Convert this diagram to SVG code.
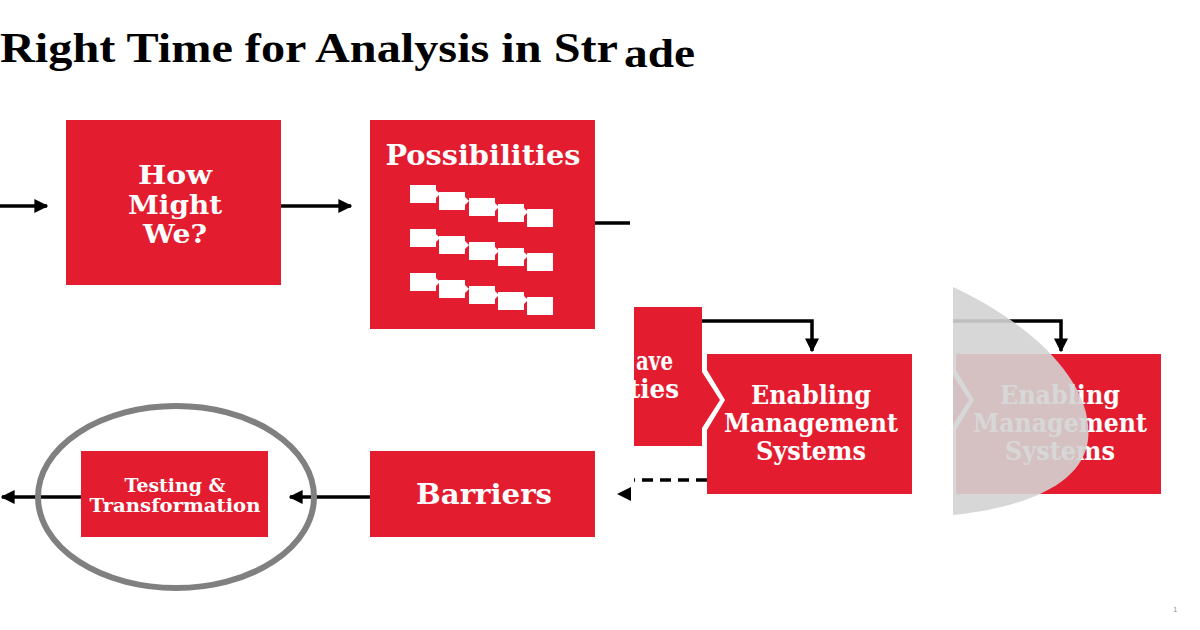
<svg xmlns="http://www.w3.org/2000/svg" width="1200" height="630" viewBox="0 0 1200 630">
<style>
.box{fill:#e31d2f}
.t{font-family:"DejaVu Serif","Liberation Serif",serif;font-weight:bold;fill:#ffffff;text-anchor:middle}
.ln{stroke:#000;stroke-width:3.5;fill:none}
.wr{fill:#ffffff}
</style>
<defs>
<marker id="ah" viewBox="0 0 10 10" refX="9" refY="5" markerWidth="4" markerHeight="4" orient="auto" markerUnits="strokeWidth">
<path d="M0,0 L10,5 L0,10 Z" fill="#000"/>
</marker>
<clipPath id="aveClip"><rect x="634" y="300" width="100" height="160"/></clipPath>
<clipPath id="rightClip"><rect x="953" y="280" width="247" height="250"/></clipPath>
<g id="wrow">
<rect class="wr" x="0" y="0" width="26" height="18"/>
<path class="wr" d="M26,5 L30,9 L26,13 Z"/>
<rect class="wr" x="29" y="7" width="26" height="18"/>
<path class="wr" d="M55,12 L59,16 L55,20 Z"/>
<rect class="wr" x="59" y="13" width="26" height="18"/>
<path class="wr" d="M85,18 L89,22 L85,26 Z"/>
<rect class="wr" x="88" y="19" width="26" height="18"/>
<path class="wr" d="M114,23 L118,27 L114,31 Z"/>
<rect class="wr" x="117" y="24" width="26" height="18"/>
</g>
<g id="emsUnit">
<path class="ln" d="M702,321 H812 V351" marker-end="url(#ah)"/>
<g clip-path="url(#aveClip)">
<path class="box" d="M634,307 H702 V372 L720,400 L702,428 V446 H634 Z"/>
<text class="t" x="636" y="370" font-size="26" style="text-anchor:start" textLength="37" lengthAdjust="spacingAndGlyphs">ave</text>
<text class="t" x="629" y="398" font-size="26" style="text-anchor:start" textLength="50" lengthAdjust="spacingAndGlyphs">ties</text>
</g>
<path class="box" d="M707,354 H912 V494 H707 V430 L725,400 L707,370 Z"/>
<text class="t" x="811" y="404" font-size="26" textLength="120" lengthAdjust="spacingAndGlyphs">Enabling</text>
<text class="t" x="811" y="432" font-size="26" textLength="174" lengthAdjust="spacingAndGlyphs">Management</text>
<text class="t" x="811" y="460" font-size="26" textLength="110" lengthAdjust="spacingAndGlyphs">Systems</text>
</g>
</defs>

<rect width="1200" height="630" fill="#ffffff"/>

<g id="title">
<text x="0" y="62" font-family="'Liberation Serif',serif" font-weight="bold" font-size="42" fill="#000" textLength="618" lengthAdjust="spacingAndGlyphs">Right Time for Analysis in Str</text>
<text x="624" y="67" font-family="'Liberation Serif',serif" font-weight="bold" font-size="40" fill="#000" textLength="71" lengthAdjust="spacingAndGlyphs">ade</text>
</g>

<g id="connectors">
<line class="ln" x1="0" y1="206" x2="47" y2="206" marker-end="url(#ah)"/>
<line class="ln" x1="281" y1="206" x2="351" y2="206" marker-end="url(#ah)"/>
<line class="ln" x1="595" y1="223" x2="630" y2="223"/>
<line class="ln" x1="707" y1="480" x2="634" y2="480" stroke-dasharray="11,7"/>
<path d="M617,494 L631,487 L631,501 Z" fill="#000"/>
<line class="ln" x1="370" y1="497" x2="290" y2="497" marker-end="url(#ah)"/>
<line class="ln" x1="81" y1="497" x2="2" y2="497" marker-end="url(#ah)"/>
</g>

<g id="node-hmw">
<rect class="box" x="66" y="120" width="215" height="165"/>
<text class="t" x="175" y="184" font-size="26" textLength="74" lengthAdjust="spacingAndGlyphs">How</text>
<text class="t" x="175" y="214" font-size="26" textLength="94" lengthAdjust="spacingAndGlyphs">Might</text>
<text class="t" x="175" y="243" font-size="26" textLength="64" lengthAdjust="spacingAndGlyphs">We?</text>
</g>

<g id="node-possibilities">
<rect class="box" x="370" y="120" width="225" height="209"/>
<text class="t" x="483" y="165" font-size="27" textLength="195" lengthAdjust="spacingAndGlyphs">Possibilities</text>
<use href="#wrow" x="410" y="185"/>
<use href="#wrow" x="410" y="229"/>
<use href="#wrow" x="410" y="273"/>
</g>

<g id="node-ems">
<use href="#emsUnit"/>
</g>

<g id="node-ems-copy">
<g clip-path="url(#rightClip)">
<use href="#emsUnit" x="249"/>
</g>
<path d="M953,287 C1035,325 1094,385 1088,440 C1083,482 1030,507 953,515 Z" fill="#d3d3d3" fill-opacity="0.9"/>
</g>

<g id="node-barriers">
<rect class="box" x="370" y="451" width="225" height="86"/>
<text class="t" x="484" y="504" font-size="28" textLength="136" lengthAdjust="spacingAndGlyphs">Barriers</text>
</g>

<g id="node-testing">
<rect class="box" x="81" y="451" width="187" height="86"/>
<text class="t" x="175" y="492" font-size="18" textLength="101" lengthAdjust="spacingAndGlyphs">Testing &amp;</text>
<text class="t" x="175" y="512" font-size="18" textLength="171" lengthAdjust="spacingAndGlyphs">Transformation</text>
<ellipse cx="176" cy="497" rx="138" ry="91" fill="none" stroke="#808080" stroke-width="6"/>
</g>

<g id="page-number">
<text x="1173" y="612" font-family="'Liberation Sans',sans-serif" font-size="8" fill="#999">1</text>
</g>
</svg>
